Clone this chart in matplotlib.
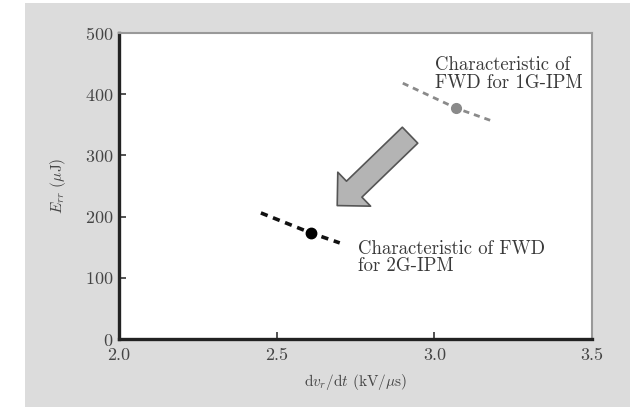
import numpy as np
import matplotlib
matplotlib.use("Agg")
import matplotlib.pyplot as plt
from matplotlib.patches import Rectangle, FancyArrowPatch

plt.rcParams['font.family'] = ['cmr10', 'DejaVu Serif']
plt.rcParams['mathtext.fontset'] = 'cm'
plt.rcParams['axes.formatter.use_mathtext'] = True

# characteristic of FWD for 1G-IPM (gray) and 2G-IPM (black)
gen1_x = [2.90, 3.07, 3.19]
gen1_y = [418, 377, 355]
gen1_pt = (3.07, 377)

gen2_x = [2.45, 2.61, 2.70]
gen2_y = [206, 173, 157]
gen2_pt = (2.61, 173)

xticks = [2.0, 2.5, 3.0, 3.5]
xticklabels = ['2.0', '2.5', '3.0', '3.5']
yticks = [0, 100, 200, 300, 400, 500]

# improvement arrow (from -> to), data coords
arrow_from = (2.923, 333)
arrow_to = (2.692, 218)

fig = plt.figure(figsize=(6.44, 4.07), dpi=100)
fig.patch.set_facecolor('white')
fig.patches.append(Rectangle((25 / 644, 0), 605 / 644, 1 - 3 / 407,
                             transform=fig.transFigure, facecolor='#dcdcdc',
                             edgecolor='none', zorder=-10))

ax = fig.add_axes([119 / 644, 1 - 339 / 407, 473 / 644, 306 / 407])
ax.set_zorder(5)
ax.set_facecolor('white')

ax.plot(gen1_x, gen1_y, ls=(0, (2.2, 1.8)), lw=2.0, color='#8a8a8a')
ax.plot(*gen1_pt, 'o', ms=7, color='#8a8a8a')
ax.plot(gen2_x, gen2_y, ls=(0, (2.0, 1.6)), lw=2.6, color='#111111')
ax.plot(*gen2_pt, 'o', ms=7.5, color='#000000')

arr = FancyArrowPatch(arrow_from, arrow_to,
                      arrowstyle='simple,head_length=0.85,head_width=1.7,tail_width=0.8',
                      mutation_scale=20, shrinkA=0, shrinkB=0,
                      facecolor='#b4b4b4', edgecolor='#555555', lw=1.2)
ax.add_patch(arr)

ax.text(3.002, 433, 'Characteristic of\nFWD for 1G-IPM', fontsize=13.5,
        color='#3a3a3a', va='center', ha='left', linespacing=0.95)
ax.text(2.758, 133, 'Characteristic of FWD\nfor 2G-IPM', fontsize=13.5,
        color='#3a3a3a', va='center', ha='left', linespacing=0.95)

ax.set_xlim(2.0, 3.5)
ax.set_ylim(0, 500)
ax.set_xticks(xticks)
ax.set_xticklabels(xticklabels)
ax.set_yticks(yticks)
ax.tick_params(direction='in', length=5, width=1.2, colors='#333333',
               labelsize=13, labelcolor='#444444')
ax.tick_params(axis='x', pad=6)
ax.tick_params(axis='y', pad=4)

for s in ['left', 'bottom']:
    ax.spines[s].set_linewidth(2.4)
    ax.spines[s].set_color('#222222')
for s in ['top', 'right']:
    ax.spines[s].set_linewidth(1.5)
    ax.spines[s].set_color('#999999')

ax.set_xlabel(r'd$v_r$/d$t$ (kV/$\mu$s)', fontsize=11, color='#444444', labelpad=7)
ax.set_ylabel(r'$E_{rr}$ ($\mu$J)', fontsize=11, color='#444444', labelpad=12)

fig.savefig('out.png', dpi=100)
